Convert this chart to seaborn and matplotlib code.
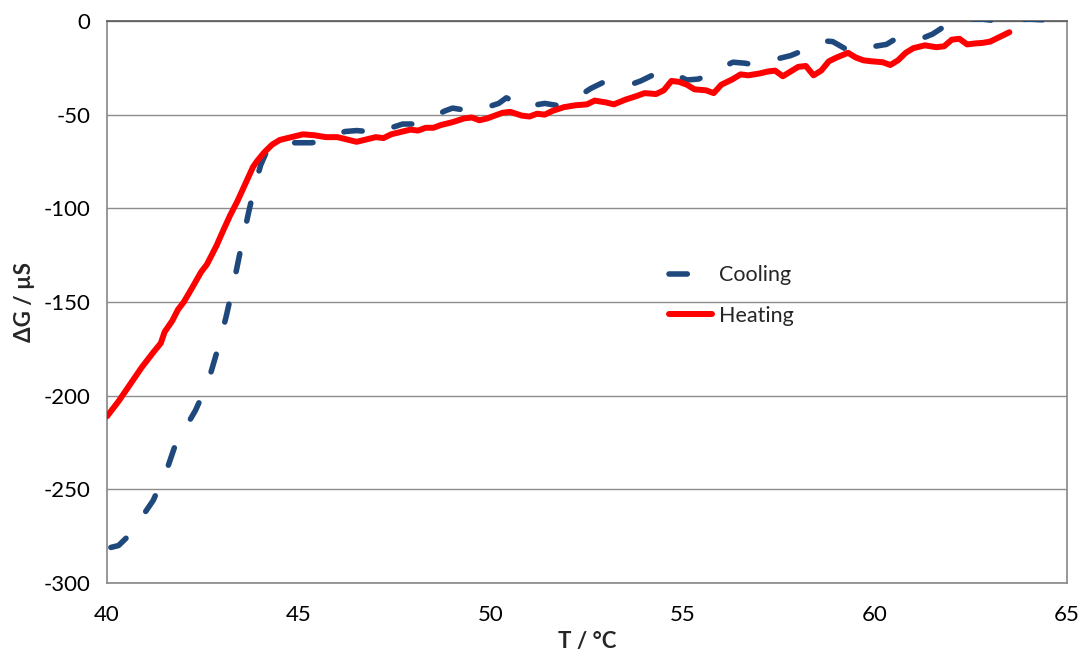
import matplotlib
matplotlib.use("Agg")
import matplotlib.pyplot as plt
import seaborn as sns
import pandas as pd

cool_T = [40.1, 40.3, 40.5, 40.8, 41.0, 41.2, 41.4, 41.6, 41.75, 41.9, 42.1, 42.3, 42.5, 42.7,
          42.9, 43.1, 43.3, 43.5, 43.7, 43.85, 44.0, 44.15, 44.35, 44.6, 45.0, 45.3, 45.6, 45.9,
          46.2, 46.5, 46.8, 47.1, 47.4, 47.7, 48.0, 48.3, 48.5, 48.8, 49.0, 49.3, 49.6, 49.9,
          50.2, 50.4, 50.6, 50.8, 51.1, 51.4, 51.7, 52.0, 52.3, 52.6, 52.9, 53.2, 53.5, 53.9,
          54.2, 54.5, 54.8, 55.1, 55.4, 55.7, 56.0, 56.3, 56.6, 56.9, 57.2, 57.5, 57.8, 58.1,
          58.4, 58.6, 58.9, 59.2, 59.5, 59.7, 60.0, 60.3, 60.5, 60.8, 61.2, 61.5, 61.8, 62.1,
          62.4, 62.8, 63.2, 63.6, 64.0, 64.5, 65.0]
cool_G = [-281, -280, -276, -268, -262, -256, -247, -237, -228, -220, -215, -208, -199, -188,
          -174, -158, -140, -120, -101, -88, -77, -70, -66, -65, -65, -65, -64.5, -61,
          -59, -58.5, -59, -60, -57, -55, -55, -53, -51, -48, -46.5, -47.5, -48.5, -46,
          -44, -41, -43, -46.5, -45, -44, -45, -42, -40, -36, -33, -34, -35, -32,
          -29, -26.5, -28.5, -31.5, -31, -28.5, -25, -22, -22.5, -23.5, -21.5, -20, -18.5, -16,
          -12, -10.5, -11, -14.5, -16.5, -14.5, -13.5, -12.5, -10, -8, -9.5, -7, -3, -0.5,
          1, 1, 0, 0.5, 1, 0.5, 0]

heat_T = [40.0, 40.3, 40.6, 40.9, 41.2, 41.4, 41.5, 41.7, 41.85, 42.0, 42.2, 42.45, 42.6, 42.7,
          42.85, 43.0, 43.2, 43.4, 43.6, 43.8, 43.9, 44.1, 44.3, 44.5, 44.8, 45.1, 45.4, 45.7,
          46.0, 46.3, 46.5, 46.8, 47.0, 47.2, 47.4, 47.7, 47.9, 48.1, 48.3, 48.5, 48.7, 49.0,
          49.3, 49.5, 49.7, 49.9, 50.1, 50.3, 50.5, 50.8, 51.0, 51.2, 51.4, 51.6, 51.9, 52.2,
          52.5, 52.7, 53.0, 53.2, 53.5, 53.8, 54.0, 54.3, 54.5, 54.7, 54.9, 55.1, 55.3, 55.6,
          55.8, 56.0, 56.3, 56.5, 56.7, 57.0, 57.2, 57.4, 57.6, 57.8, 58.0, 58.2, 58.4, 58.6,
          58.8, 59.0, 59.3, 59.5, 59.7, 59.9, 60.2, 60.4, 60.6, 60.8, 61.0, 61.3, 61.6, 61.8,
          62.0, 62.2, 62.4, 62.6, 62.8, 63.0, 63.2, 63.5]
heat_G = [-211, -203, -194, -185, -177, -172, -166, -160, -154, -150, -143, -134, -130, -126,
          -120, -113, -104, -96, -87, -78, -75, -70, -66, -63.5, -62, -60.5, -61, -62,
          -62, -63.5, -64.5, -63, -62, -62.5, -60.5, -59, -58, -58.5, -57, -57, -55.5, -54,
          -52, -51.5, -53, -52, -50.5, -49, -48.5, -50.5, -51, -49.5, -50, -48, -46, -45,
          -44.5, -42.5, -43.5, -44.5, -42, -40, -38.5, -39, -37, -32, -32.5, -34, -36.5, -37,
          -38.5, -34, -31, -28.5, -29, -28, -27, -26.5, -29.5, -27, -24.5, -24, -29, -26.5,
          -21.5, -19.5, -17, -19.5, -21, -21.5, -22, -23.5, -21, -17, -14.5, -13, -14, -13.5,
          -10, -9.5, -12.5, -12, -11.7, -11, -9, -6]

x_ticks = [40, 45, 50, 55, 60, 65]
y_ticks = [0, -50, -100, -150, -200, -250, -300]

sns.set_theme(style="white")
plt.rcParams['font.family'] = ['Lato', 'DejaVu Sans']
plt.rcParams['axes.unicode_minus'] = False

fig = plt.figure(figsize=(10.81, 6.62), dpi=100)
ax = fig.add_axes([0.099, 0.1193, 0.888, 0.849])

df_c = pd.DataFrame({"T": cool_T, "G": cool_G})
df_h = pd.DataFrame({"T": heat_T, "G": heat_G})

sns.lineplot(data=df_c, x="T", y="G", ax=ax, color="#1F497D", linewidth=4.0,
             label="Cooling", sort=False, zorder=3)
ax.lines[-1].set_dashes([3.3, 6.0])
ax.lines[-1].set_dash_capstyle("round")
ax.lines[-1].set_solid_capstyle("round")
sns.lineplot(data=df_h, x="T", y="G", ax=ax, color="#FF0000", linewidth=4.3,
             label="Heating", sort=False, zorder=4)
ax.lines[-1].set_solid_capstyle("round")

ax.set_xlim(40, 65)
ax.set_ylim(-300, 0)
ax.set_xticks(x_ticks)
ax.set_yticks(y_ticks)
ax.yaxis.grid(True, color="#8C8C8C", linewidth=1.0)
ax.xaxis.grid(False)
ax.set_axisbelow(True)
for s in ax.spines.values():
    s.set_visible(True)
    s.set_color("#868686")
    s.set_linewidth(1.2)
ax.spines["top"].set_color("#595959")
ax.tick_params(axis="both", direction="out", length=7, width=1, color="#868686",
               labelsize=16, labelcolor="black", pad=5)
ax.tick_params(axis="x", pad=9)

ax.set_xlabel("T / °C", fontsize=16, fontweight="bold", labelpad=4)
ax.set_ylabel("ΔG / µS", fontsize=16, fontweight="bold", labelpad=6)

leg = ax.legend(loc="upper left", bbox_to_anchor=(0.565, 0.6), frameon=False,
                fontsize=15.5, handlelength=2.0, labelspacing=0.95, handletextpad=0.35)

fig.savefig("out.png", dpi=100)
